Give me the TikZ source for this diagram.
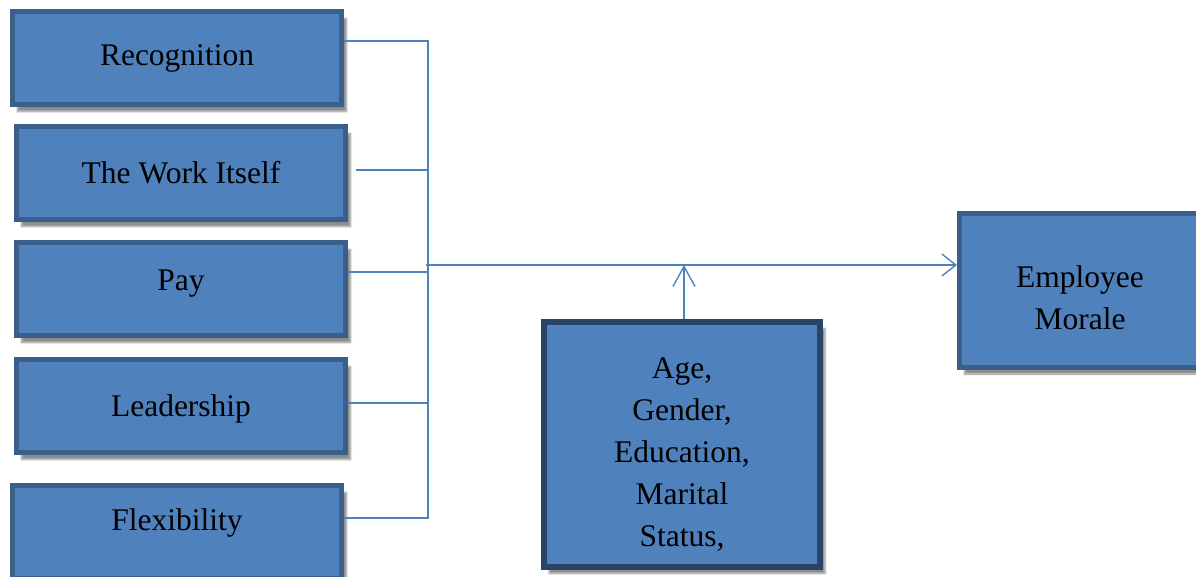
\documentclass[tikz,border=0pt]{standalone}
\usepackage{fontspec}
\setmainfont{Liberation Serif}
\usepackage{xcolor}
\usepackage{tikz}
\usetikzlibrary{arrows.meta,shadows.blur}

\definecolor{boxfill}{HTML}{4F81BD}
\definecolor{boxedge}{HTML}{3A5F8B}
\definecolor{boxdark}{HTML}{2A4468}

\begin{document}
\begin{tikzpicture}[
  x=1pt, y=-1pt,
  font=\fontsize{31.5}{42}\selectfont,
  factor/.style={
    rectangle, draw=boxedge, line width=5pt, fill=boxfill,
    minimum width=329pt, minimum height=93pt, inner sep=0pt, align=center,
    blur shadow={shadow xshift=5pt, shadow yshift=-7pt,
                 shadow blur steps=6, shadow opacity=45}
  },
  outcome/.style={factor, minimum width=241pt, minimum height=154pt},
  demog/.style={factor, draw=boxdark, line width=6pt,
                minimum width=276pt, minimum height=245pt},
  link/.style={draw=boxfill, line width=1.4pt},
  arr/.style={link, -{Straight Barb[length=14pt,width=22pt,line width=1.4pt]}},
  uparr/.style={link, -{Straight Barb[length=20pt,width=22pt,line width=1.4pt]}}
]
\useasboundingbox (0,0) rectangle (1196,576);
\clip (0,0) rectangle (1196,576);

% left-hand factors
\node[factor] (recog) at (177,58) {Recognition};
\node[factor] (work) at (181,173) {The Work Itself};
\node[factor, text depth=17pt] (pay) at (181,289) {Pay};
\node[factor, text height=28pt, text depth=7pt] (lead) at (181,406) {Leadership};
\node[factor, text depth=25pt] (flex) at (177,532) {Flexibility};

% right-hand outcome and moderator
\node[outcome] (morale) at (1080,290) {\rule{0pt}{38pt}Employee\\Morale};
\node[demog] (demo) at (682,444)
  {\rule{0pt}{42pt}Age,\\Gender,\\Education,\\Marital\\Status,};

% bus points
\coordinate (b1) at (428,41);
\coordinate (b2) at (428,170);
\coordinate (b3) at (428,272);
\coordinate (b4) at (428,403);
\coordinate (b5) at (428,518);
\coordinate (join) at (426,265);
\coordinate (tee) at (684,265);

\draw[link] (recog.east |- b1) -- (b1) -- (b5) -- (flex.east |- b5);
\draw[link] ([xshift=8pt]work.east |- b2) -- (b2);
\draw[link] (pay.east |- b3) -- (b3);
\draw[link] (lead.east |- b4) -- (b4);

\draw[arr] (join) -- (morale.west |- join);
\draw[uparr] (demo.north -| tee) -- (tee);

\end{tikzpicture}
\end{document}
